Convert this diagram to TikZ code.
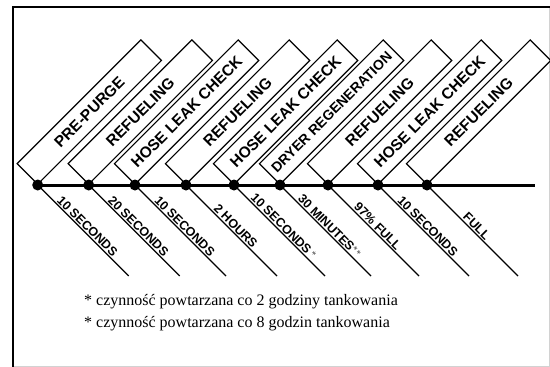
\documentclass[tikz,border=0pt]{standalone}
\usepackage{fontspec}
\setmainfont{Liberation Serif}
\newfontfamily\arialf{Liberation Sans}
\begin{document}
\begin{tikzpicture}[x=1pt,y=-1pt,
  stagebox/.style={draw, line width=1.2pt, rotate=45, anchor=south west,
    minimum width=175pt, minimum height=29pt, inner sep=0pt,
    font=\arialf\bfseries\fontsize{15.5}{17}\selectfont},
  durlab/.style={sloped, above, inner sep=1pt,
    font=\arialf\bfseries\fontsize{12.5}{14}\selectfont},
  durline/.style={line width=1.3pt},
  evdot/.style={circle, fill=black, inner sep=0pt, minimum size=11pt},
  note/.style={anchor=west, inner sep=0pt, font=\fontsize{16}{18}\selectfont}]
\useasboundingbox (0,0) rectangle (550,367);
\fill[white] (0,0) rectangle (550,367);
% frame
\draw[gray!35, line width=0.6pt] (13,366) -- (549,366) -- (549,7);
\draw[line width=2.2pt] (13,367) -- (13,7) -- (550,7);
% event points
\foreach \n/\x in {1/37.7,2/88.7,3/135,4/186,5/234,6/280,7/328,8/378,9/427}{
  \coordinate (d\n) at (\x,185);
  \coordinate (e\n) at (\x+91,276);
}
\coordinate (tend) at (535,185);
\draw[line width=3pt] (d1) -- (tend);
% stage boxes
\node[stagebox] (b1) at (d1) {PRE-PURGE};
\node[stagebox] (b2) at (d2) {REFUELING};
\node[stagebox] (b3) at (d3) {HOSE LEAK CHECK};
\node[stagebox] (b4) at (d4) {REFUELING};
\node[stagebox] (b5) at (d5) {HOSE LEAK CHECK};
\node[stagebox, font=\arialf\bfseries\fontsize{14}{15}\selectfont] (b6) at (d6) {DRYER REGENERATION};
\node[stagebox] (b7) at (d7) {REFUELING};
\node[stagebox] (b8) at (d8) {HOSE LEAK CHECK};
\node[stagebox] (b9) at (d9) {REFUELING};
% duration lines
\draw[durline] (d1) -- (e1) node[durlab, pos=0.5] {10 SECONDS};
\draw[durline] (d2) -- (e2) node[durlab, pos=0.5] {20 SECONDS};
\draw[durline] (d3) -- (e3) node[durlab, pos=0.5] {10 SECONDS};
\draw[durline] (d4) -- (e4) node[durlab, pos=0.5] {2 HOURS};
\draw[durline] (d5) -- (e5) node[durlab, pos=0.5] {10 SECONDS\,$^{*}$};
\draw[durline] (d6) -- (e6) node[durlab, pos=0.5] {30 MINUTES$^{**}$};
\draw[durline] (d7) -- (e7) node[durlab, pos=0.5] {97\% FULL};
\draw[durline] (d8) -- (e8) node[durlab, pos=0.5] {10 SECONDS};
\draw[durline] (d9) -- (e9) node[durlab, pos=0.5] {FULL};
% dots
\foreach \n in {1,...,9}{ \node[evdot] (p\n) at (d\n) {}; }
% notes
\node[note] (n1) at (84,302) {* czynność powtarzana co 2 godziny tankowania};
\node[note] (n2) at (84,324) {* czynność powtarzana co 8 godzin tankowania};
\end{tikzpicture}
\end{document}
